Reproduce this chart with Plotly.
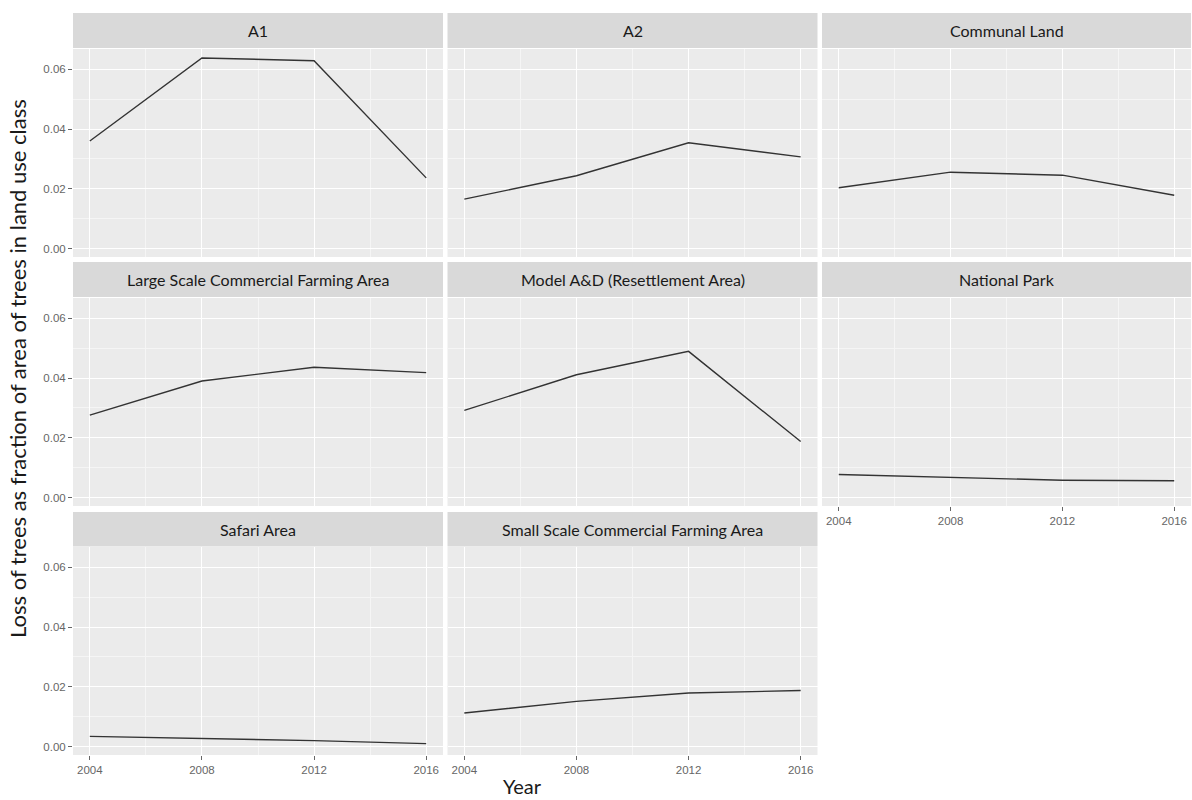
import plotly.graph_objects as go

years = [2004, 2008, 2012, 2016]
facets = ["A1", "A2", "Communal Land",
          "Large Scale Commercial Farming Area", "Model A&D (Resettlement Area)", "National Park",
          "Safari Area", "Small Scale Commercial Farming Area"]
a1 = [0.0360, 0.0637, 0.0628, 0.0237]
a2 = [0.0166, 0.0244, 0.0354, 0.0307]
communal = [0.0204, 0.0256, 0.0246, 0.0179]
large_scale = [0.0276, 0.0390, 0.0436, 0.0418]
model_ad = [0.0292, 0.0411, 0.0489, 0.0188]
national_park = [0.0078, 0.0068, 0.0059, 0.0057]
safari = [0.0035, 0.0028, 0.0021, 0.0011]
small_scale = [0.0113, 0.0152, 0.0180, 0.0188]
series = [a1, a2, communal, large_scale, model_ad, national_park, safari, small_scale]

x_tick_labels = ["2004", "2008", "2012", "2016"]
y_tick_vals = [0.00, 0.02, 0.04, 0.06]
y_tick_labels = ["0.00", "0.02", "0.04", "0.06"]

W, H = 1192, 800
col_px = [(73, 443), (447.5, 817.5), (822, 1191)]
panel_px = [(49, 257), (298, 506), (547, 755)]
strip_px = [(13, 48), (262, 297), (512, 546.5)]

def fx(p):
    return p / W

def fy(p):
    return 1 - p / H

fig = go.Figure()
layout = dict(
    width=W, height=H,
    margin=dict(l=0, r=0, t=0, b=0),
    paper_bgcolor="white", plot_bgcolor="#EBEBEB",
    showlegend=False,
)
shapes = []
annotations = []

n = len(facets)
for i, (name, vals) in enumerate(zip(facets, series)):
    r, c = divmod(i, 3)
    k = i + 1
    xa = "x" if k == 1 else f"x{k}"
    ya = "y" if k == 1 else f"y{k}"
    fig.add_trace(go.Scatter(x=years, y=vals, mode="lines",
                             line=dict(color="#333333", width=1.4),
                             xaxis=xa, yaxis=ya, hoverinfo="x+y"))
    show_x = (i + 3) >= n
    show_y = c == 0
    xkey = "xaxis" if k == 1 else f"xaxis{k}"
    ykey = "yaxis" if k == 1 else f"yaxis{k}"
    layout[xkey] = dict(
        domain=[fx(col_px[c][0]), fx(col_px[c][1])],
        anchor=ya, range=[2003.4, 2016.6],
        tickmode="array", tickvals=years, ticktext=x_tick_labels,
        showticklabels=show_x, ticks="outside" if show_x else "",
        ticklen=4, tickwidth=1, tickcolor="#666666",
        tickfont=dict(family="Liberation Sans, Arial", size=11.5, color="#666666"),
        showgrid=True, gridcolor="white", gridwidth=1.3,
        minor=dict(tickvals=[2006, 2010, 2014], showgrid=True,
                   gridcolor="#F5F5F5", gridwidth=0.7),
        zeroline=False, showline=False, fixedrange=True,
    )
    layout[ykey] = dict(
        domain=[fy(panel_px[r][1]), fy(panel_px[r][0])],
        anchor=xa, range=[-0.0027, 0.0667],
        tickmode="array", tickvals=y_tick_vals, ticktext=y_tick_labels,
        showticklabels=show_y, ticks="outside" if show_y else "",
        ticklen=4, tickwidth=1, tickcolor="#666666",
        tickfont=dict(family="Liberation Sans, Arial", size=11.5, color="#666666"),
        showgrid=True, gridcolor="white", gridwidth=1.3,
        minor=dict(tickvals=[0.01, 0.03, 0.05], showgrid=True,
                   gridcolor="#F5F5F5", gridwidth=0.7),
        zeroline=False, showline=False, fixedrange=True,
    )
    shapes.append(dict(type="rect", xref="paper", yref="paper",
                       x0=fx(col_px[c][0]), x1=fx(col_px[c][1]),
                       y0=fy(strip_px[r][1]), y1=fy(strip_px[r][0]),
                       fillcolor="#D9D9D9", line=dict(width=0), layer="below"))
    annotations.append(dict(text=name, xref="paper", yref="paper",
                            x=fx((col_px[c][0] + col_px[c][1]) / 2),
                            y=fy((strip_px[r][0] + strip_px[r][1]) / 2),
                            xanchor="center", yanchor="middle", showarrow=False,
                            font=dict(family="Lato, Open Sans", size=16, color="#1A1A1A")))

annotations.append(dict(text="Year", xref="paper", yref="paper",
                        x=fx(522), y=fy(786), xanchor="center", yanchor="middle",
                        showarrow=False,
                        font=dict(family="Lato, Open Sans", size=20, color="#1A1A1A")))
annotations.append(dict(text="Loss of trees as fraction of area of trees in land use class",
                        xref="paper", yref="paper", x=fx(18), y=fy(369),
                        xanchor="center", yanchor="middle", textangle=-90,
                        showarrow=False,
                        font=dict(family="Lato, Open Sans", size=22, color="#1A1A1A")))

layout["shapes"] = shapes
layout["annotations"] = annotations
fig.update_layout(**layout)
fig.write_html("out.html", config={"displayModeBar": False},
               post_script="document.body.style.margin='0';document.body.style.overflow='hidden';")
